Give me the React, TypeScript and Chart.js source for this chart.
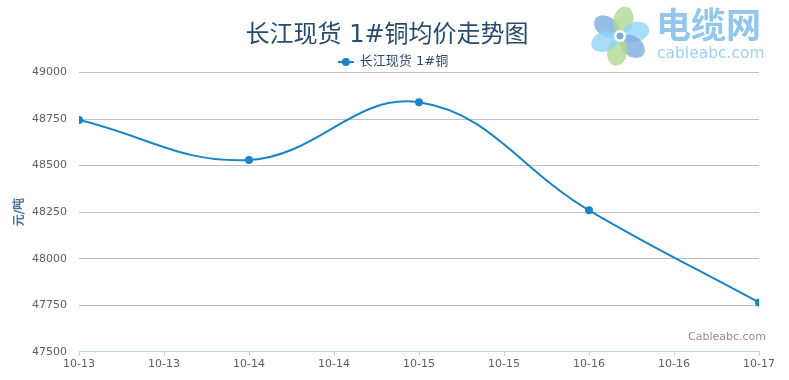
import React, { useEffect, useRef } from "react";
import { Chart, registerables } from "chart.js";

Chart.register(...registerables);

const dates = ["10-13", "10-14", "10-15", "10-16", "10-17"];
const prices = [48745, 48530, 48840, 48260, 47765];
const xTickLabels = ["10-13", "10-13", "10-14", "10-14", "10-15", "10-15", "10-16", "10-16", "10-17"];
const yTicks = [47500, 47750, 48000, 48250, 48500, 48750, 49000];
const titleText = "长江现货 1#铜均价走势图";
const seriesName = "长江现货 1#铜";
const yTitle = "元/吨";
const creditText = "Cableabc.com";

const LINE = "#1a84c8";
const FONT = '"DejaVu Sans", "Noto Sans CJK SC", sans-serif';

const decorPlugin = {
  id: "decor",
  beforeDraw(chart: any) {
    const ctx = chart.ctx as CanvasRenderingContext2D;
    ctx.save();
    // logo flower
    const cx = 620, cy = 36;
    const petals = [
      { a: -145, color: "rgba(125,172,222,0.8)" },
      { a: -78, color: "rgba(175,218,145,0.8)" },
      { a: -15, color: "rgba(145,212,245,0.8)" },
      { a: 40, color: "rgba(125,172,222,0.8)" },
      { a: 100, color: "rgba(175,218,145,0.8)" },
      { a: 160, color: "rgba(145,212,245,0.8)" },
    ];
    for (const p of petals) {
      const r = (p.a * Math.PI) / 180;
      ctx.save();
      ctx.translate(cx + Math.cos(r) * 16, cy + Math.sin(r) * 16);
      ctx.rotate(r);
      ctx.fillStyle = p.color;
      ctx.beginPath();
      ctx.ellipse(0, 0, 14, 10, 0, 0, Math.PI * 2);
      ctx.fill();
      ctx.restore();
    }
    ctx.fillStyle = "#ffffff";
    ctx.beginPath();
    ctx.arc(cx, cy, 6, 0, Math.PI * 2);
    ctx.fill();
    ctx.fillStyle = "rgba(120,160,215,0.9)";
    ctx.beginPath();
    ctx.arc(cx, cy, 3.5, 0, Math.PI * 2);
    ctx.fill();
    // logo text
    ctx.fillStyle = "#92c6ec";
    ctx.font = 'bold 35px "Noto Sans CJK SC", sans-serif';
    ctx.textAlign = "left";
    ctx.textBaseline = "alphabetic";
    ctx.fillText("电缆网", 656, 38);
    ctx.fillStyle = "#9dd3f2";
    ctx.font = '15.5px "DejaVu Sans", sans-serif';
    ctx.fillText("cableabc.com", 657, 58);
    ctx.restore();
  },
  afterDraw(chart: any) {
    const ctx = chart.ctx as CanvasRenderingContext2D;
    ctx.save();
    // credits
    ctx.fillStyle = "#909090";
    ctx.font = '11px "DejaVu Sans", sans-serif';
    ctx.textAlign = "right";
    ctx.textBaseline = "alphabetic";
    ctx.fillText(creditText, 766, 340);
    // legend (line + marker + label)
    const color = chart.data.datasets[0].borderColor;
    ctx.font = `13px ${FONT}`;
    const tw = ctx.measureText(seriesName).width;
    const total = 16 + 6 + tw;
    const x0 = 393 - total / 2;
    const ly = 62;
    ctx.strokeStyle = color;
    ctx.lineWidth = 2;
    ctx.beginPath();
    ctx.moveTo(x0, ly);
    ctx.lineTo(x0 + 16, ly);
    ctx.stroke();
    ctx.fillStyle = color;
    ctx.beginPath();
    ctx.arc(x0 + 8, ly, 4, 0, Math.PI * 2);
    ctx.fill();
    ctx.fillStyle = "#274b6d";
    ctx.textAlign = "left";
    ctx.textBaseline = "middle";
    ctx.fillText(seriesName, x0 + 22, ly);
    ctx.restore();
  },
};

export default function App() {
  const ref = useRef<HTMLCanvasElement | null>(null);
  useEffect(() => {
    document.body.style.margin = "0";
    const chart = new Chart(ref.current!, {
      type: "line",
      data: {
        datasets: [
          {
            label: seriesName,
            data: prices.map((v, i) => ({ x: i, y: v })),
            borderColor: LINE,
            backgroundColor: LINE,
            borderWidth: 2,
            pointRadius: 4,
            pointBackgroundColor: LINE,
            pointBorderWidth: 0,
            pointStyle: "circle",
            tension: 0.4,
          },
        ],
      },
      options: {
        responsive: false,
        animation: false,
        devicePixelRatio: 1,
        layout: { autoPadding: false, padding: { left: 0, right: 15, top: 0, bottom: 7 } },
        plugins: {
          tooltip: { enabled: false },
          legend: { display: false },
          title: {
            display: true,
            text: titleText,
            color: "#274b6d",
            font: { family: FONT, size: 24, weight: "normal" },
            padding: { top: 21, bottom: 22.7 },
          },
        },
        scales: {
          x: {
            type: "linear",
            min: 0,
            max: dates.length - 1,
            ticks: {
              stepSize: 0.5,
              autoSkip: false,
              maxRotation: 0,
              color: "#606060",
              font: { family: FONT, size: 11 },
              padding: 2,
              callback: (v: any) => xTickLabels[Math.round(Number(v) * 2)] ?? "",
            },
            grid: {
              drawOnChartArea: false,
              drawTicks: true,
              tickLength: 4,
              color: "#c0d0e0",
            },
            border: { display: true, color: "#c0d0e0", width: 1 },
          },
          y: {
            type: "linear",
            min: yTicks[0],
            max: yTicks[yTicks.length - 1],
            afterBuildTicks: (s: any) => {
              s.ticks = yTicks.map((v) => ({ value: v }));
            },
            afterFit: (s: any) => {
              s.width = 79;
            },
            ticks: {
              color: "#606060",
              font: { family: FONT, size: 11 },
              padding: 12,
              callback: (v: any) => String(v),
            },
            grid: {
              color: "#c0c0c0",
              drawTicks: false,
            },
            border: { display: false },
            title: {
              display: true,
              text: yTitle,
              color: "#4d759e",
              font: { family: FONT, size: 12, weight: "bold" },
              padding: { top: 13, bottom: 0 },
            },
          },
          spacer: {
            type: "linear",
            position: "right",
            display: true,
            ticks: { display: false },
            grid: { display: false, drawTicks: false },
            border: { display: false },
            afterFit: (s: any) => {
              s.width = 15;
            },
          },
        },
      },
      plugins: [decorPlugin],
    });
    return () => chart.destroy();
  }, []);
  return (
    <div style={{ width: 789, height: 380 }}>
      <canvas ref={ref} width={789} height={380} style={{ display: "block" }} />
    </div>
  );
}
